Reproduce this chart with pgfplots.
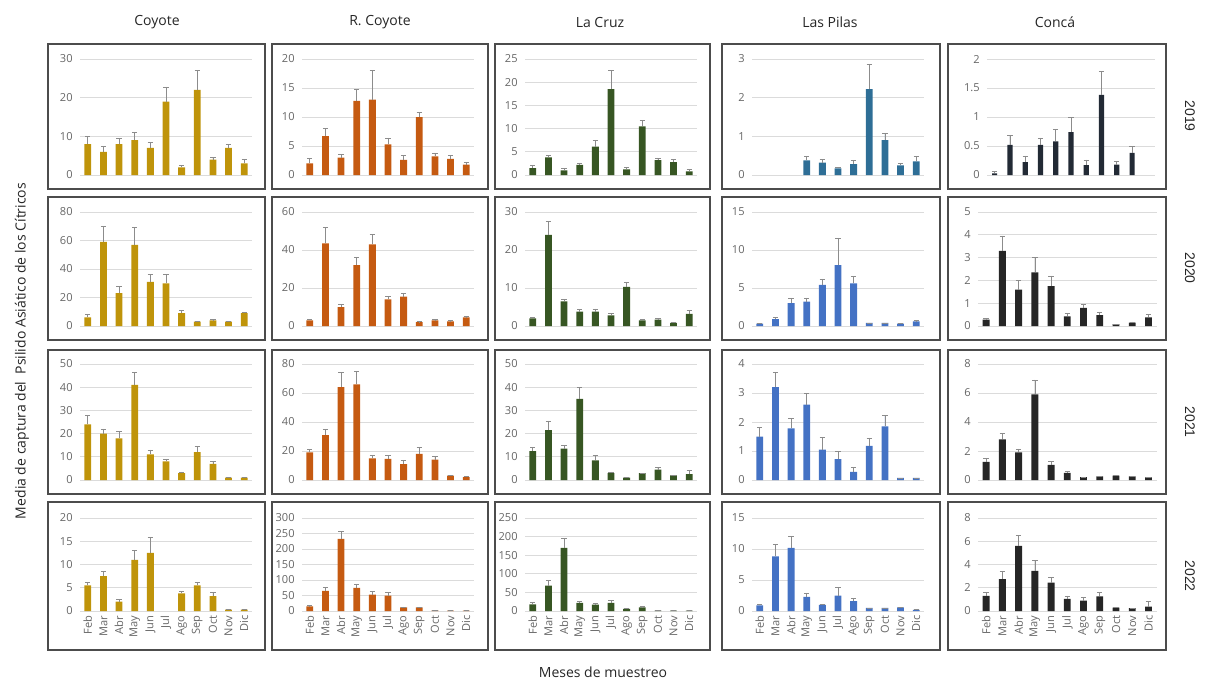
\documentclass[border=0pt]{standalone}
\usepackage{fontspec}
\setmainfont{Open Sans}
\newfontfamily\arialf{Liberation Sans}
\usepackage{pgfplots}
\usepackage{pgfplotstable}
\pgfplotsset{compat=1.18}

\definecolor{cgold}{RGB}{191,148,10}
\definecolor{corange}{RGB}{197,90,17}
\definecolor{cgreen}{RGB}{55,86,35}
\definecolor{cteal}{RGB}{46,110,150}
\definecolor{cblue}{RGB}{68,114,196}
\definecolor{cnavy}{RGB}{34,42,53}
\definecolor{cblack}{RGB}{38,38,38}

% Coyote
\pgfplotstableread{
x y e
0 8 2
1 6 1.5
2 8 1.5
3 9 2
4 7 1.5
5 19 3.8
6 2 0.5
7 22 5
8 4 0.5
9 7 1
10 3 1
}\cyA
\pgfplotstableread{
x y e
0 6 2
1 59 11
2 23 5
3 57 12
4 31 5
5 30 6
6 9 2
7 3 0.5
8 4 0.5
9 3 0.5
10 9 0.5
}\cyB
\pgfplotstableread{
x y e
0 24 4
1 20 2
2 18 3
3 41 5.5
4 11 2
5 8 1
6 3 0.5
7 12 2.5
8 7 1
9 1 0.2
10 1 0.2
}\cyC
\pgfplotstableread{
x y e
0 5.5 0.7
1 7.5 1
2 2 0.5
3 11 2
4 12.5 3.3
6 3.8 0.5
7 5.5 0.7
8 3.2 0.8
9 0.3 0
10 0.3 0
}\cyD
% R. Coyote
\pgfplotstableread{
x y e
0 2 0.8
1 6.7 1.3
2 3 0.6
3 12.8 2
4 13 5
5 5.3 1.1
6 2.6 0.8
7 10 0.8
8 3.2 0.6
9 2.8 0.6
10 1.8 0.4
}\rcA
\pgfplotstableread{
x y e
0 3 0.5
1 43.5 8.5
2 10 1.5
3 32 4
4 43 5
5 14 1.5
6 15.5 1.5
7 2 0.2
8 3 0.3
9 2.5 0.3
10 4.5 0.5
}\rcB
\pgfplotstableread{
x y e
0 19 2
1 31 4
2 64 10
3 66 9
4 15 2
5 14.5 2.5
6 11 2.5
7 18 4.5
8 14 2.5
9 3 0
10 2 0.5
}\rcC
\pgfplotstableread{
x y e
0 15 2
1 65 12
2 233 25
3 75 10
4 53 9
5 50 10
6 12 1
7 12 1
8 2 0
9 1 0
10 1 0
}\rcD
% La Cruz
\pgfplotstableread{
x y e
0 1.5 0.5
1 3.8 0.5
2 1 0.5
3 2.2 0.4
4 6.1 1.4
5 18.5 4
6 1.2 0.4
7 10.5 1.2
8 3.2 0.5
9 2.8 0.6
10 0.8 0.4
}\lcA
\pgfplotstableread{
x y e
0 2 0.3
1 24 3.5
2 6.5 0.5
3 3.8 0.5
4 3.8 0.7
5 2.8 0.5
6 10.3 1.2
7 1.5 0.3
8 1.7 0.3
9 0.8 0.2
10 3.2 0.8
}\lcB
\pgfplotstableread{
x y e
0 12.5 1.5
1 21.5 4
2 13.5 1.5
3 35 5
4 8.5 2
5 3 0.5
6 1 0
7 3 0
8 4.5 1
9 2 0
10 2.5 1.5
}\lcC
\pgfplotstableread{
x y e
0 18 4
1 68 14
2 170 25
3 22 3
4 17 3
5 22 6
6 6 1
7 10 2
8 1 0
9 1 0
10 1 0
}\lcD
% Las Pilas
\pgfplotstableread{
x y e
3 0.38 0.09
4 0.32 0.08
5 0.17 0.03
6 0.28 0.1
7 2.22 0.63
8 0.9 0.18
9 0.25 0.05
10 0.35 0.13
}\lpA
\pgfplotstableread{
x y e
0 0.3 0
1 0.9 0.2
2 3 0.7
3 3.2 0.5
4 5.4 0.8
5 8 3.6
6 5.6 0.9
7 0.4 0
8 0.4 0
9 0.3 0
10 0.6 0.1
}\lpB
\pgfplotstableread{
x y e
0 1.5 0.3
1 3.2 0.5
2 1.78 0.34
3 2.6 0.4
4 1.05 0.42
5 0.72 0.26
6 0.28 0.15
7 1.18 0.27
8 1.85 0.37
9 0.07 0
10 0.07 0
}\lpC
\pgfplotstableread{
x y e
0 0.9 0.2
1 8.8 2
2 10.2 1.8
3 2.3 0.5
4 1 0.1
5 2.5 1.3
6 1.6 0.4
7 0.5 0
8 0.5 0
9 0.6 0
10 0.2 0
}\lpD
% Conca
\pgfplotstableread{
x y e
0 0.03 0.03
1 0.52 0.16
2 0.22 0.11
3 0.52 0.12
4 0.58 0.2
5 0.74 0.25
6 0.17 0.09
7 1.38 0.4
8 0.18 0.06
9 0.38 0.11
}\coA
\pgfplotstableread{
x y e
0 0.28 0.05
1 3.3 0.65
2 1.6 0.4
3 2.35 0.65
4 1.75 0.45
5 0.42 0.13
6 0.8 0.15
7 0.48 0.14
8 0.08 0
9 0.15 0.03
10 0.38 0.14
}\coB
\pgfplotstableread{
x y e
0 1.25 0.25
1 2.8 0.4
2 1.9 0.25
3 5.9 1
4 1.05 0.25
5 0.5 0.1
6 0.2 0
7 0.25 0
8 0.3 0
9 0.25 0
10 0.18 0
}\coC
\pgfplotstableread{
x y e
0 1.3 0.3
1 2.75 0.65
2 5.6 0.9
3 3.45 0.9
4 2.45 0.45
5 1.05 0.25
6 0.9 0.25
7 1.25 0.35
8 0.3 0
9 0.25 0
10 0.38 0.42
}\coD

\pgfplotsset{
  panel/.style={scale only axis, width=129pt, anchor=north west,
    xmin=-0.5, xmax=10.5, ymin=0, enlargelimits=false, clip=false,
    axis line style={draw=none}, ymajorgrids,
    grid style={draw=black!14, line width=0.6pt},
    major tick length=0pt, xtick={0,...,10}, xticklabels={},
    tick label style={font=\fontsize{8.3}{9}\selectfont, text=black!60},
    /pgf/number format/assume math mode=true,
    yticklabel style={/pgf/number format/fixed, xshift=-2pt}},
  r1/.style={height=87pt},
  r2/.style={height=85.5pt},
  r3/.style={height=87pt},
  r4/.style={height=69.75pt,
    xticklabels={Feb,Mar,Abr,May,Jun,Jul,Ago,Sep,Oct,Nov,Dic},
    xticklabel style={rotate=90, anchor=east, xshift=0pt}},
  bars/.style={ybar, draw=none, bar width=5.1pt,
    error bars/y dir=plus, error bars/y explicit,
    error bars/error bar style={draw=black!45, line width=0.5pt},
    error bars/error mark options={rotate=90, draw=black!45, mark size=2pt, line width=0.5pt}}
}

\newcommand\panel[7][]{%
  \begin{axis}[panel, at={({#2*0.75pt},{-#3*0.75pt})}, ymax=#4, ytick={#5}, #1]
    \addplot[bars, fill=#6] table[x index=0, y index=1, y error index=2]{#7};
  \end{axis}}

\begin{document}
\begin{tikzpicture}
\path[use as bounding box] (0pt,0pt) rectangle (909.75pt,-512.25pt);

% Coyote
\panel[r1]{80}{59}{30}{0,10,20,30}{cgold}{\cyA}
\panel[r2]{80}{212}{80}{0,20,40,60,80}{cgold}{\cyB}
\panel[r3]{80}{364}{50}{0,10,20,30,40,50}{cgold}{\cyC}
\panel[r4]{80}{518}{20}{0,5,10,15,20}{cgold}{\cyD}
% R. Coyote
\panel[r1]{302}{59}{20}{0,5,10,15,20}{corange}{\rcA}
\panel[r2]{302}{212}{60}{0,20,40,60}{corange}{\rcB}
\panel[r3]{302}{364}{80}{0,20,40,60,80}{corange}{\rcC}
\panel[r4]{302}{518}{300}{0,50,100,150,200,250,300}{corange}{\rcD}
% La Cruz
\panel[r1]{525}{59}{25}{0,5,10,15,20,25}{cgreen}{\lcA}
\panel[r2]{525}{212}{30}{0,10,20,30}{cgreen}{\lcB}
\panel[r3]{525}{364}{50}{0,10,20,30,40,50}{cgreen}{\lcC}
\panel[r4]{525}{518}{250}{0,50,100,150,200,250}{cgreen}{\lcD}
% Las Pilas
\panel[r1]{752}{59}{3}{0,1,2,3}{cteal}{\lpA}
\panel[r2]{752}{212}{15}{0,5,10,15}{cblue}{\lpB}
\panel[r3]{752}{364}{4}{0,1,2,3,4}{cblue}{\lpC}
\panel[r4]{752}{518}{15}{0,5,10,15}{cblue}{\lpD}
% Conca
\panel[r1, width=126pt, bars/.append style={bar width=3.9pt}]{987}{59}{2}{0,0.5,1,1.5,2}{cnavy}{\coA}
\panel[r2, width=134pt]{978}{212}{5}{0,1,2,3,4,5}{cblack}{\coB}
\panel[r3, width=134pt]{978}{364}{8}{0,2,4,6,8}{cblack}{\coC}
\panel[r4, width=134pt]{978}{518}{8}{0,2,4,6,8}{cblack}{\coD}

\begin{scope}[x=0.75pt, y=-0.75pt]
% frames
\foreach \xa/\xb in {48/265, 272/488, 495/710, 722/940, 948/1166}{
  \foreach \ya/\yb in {44/189, 197/340, 350/494, 502/650}{
    \draw[black!70, line width=0.9pt] (\xa,\ya) rectangle (\xb,\yb);
  }
}
% titles
\begin{scope}[every node/.style={font=\fontsize{10.5}{12}\selectfont, text=black!85}]
\node at (157,22) {Coyote};
\node at (380,22) {R. Coyote};
\node at (600,22) {La Cruz};
\node at (830,22) {Las Pilas};
\node at (1055,22) {Concá};
\node[rotate=90] at (22,351) {Media de captura del\ \ Psilido Asiático de los Cítricos};
\node at (603,672) {Meses de muestreo};
\end{scope}
\begin{scope}[every node/.style={font=\arialf\fontsize{10.5}{12}\selectfont, text=black!85, rotate=-90}]
\node at (1190,116) {2019};
\node at (1190,268) {2020};
\node at (1190,422) {2021};
\node at (1190,576) {2022};
\end{scope}
\end{scope}
\end{tikzpicture}
\end{document}
